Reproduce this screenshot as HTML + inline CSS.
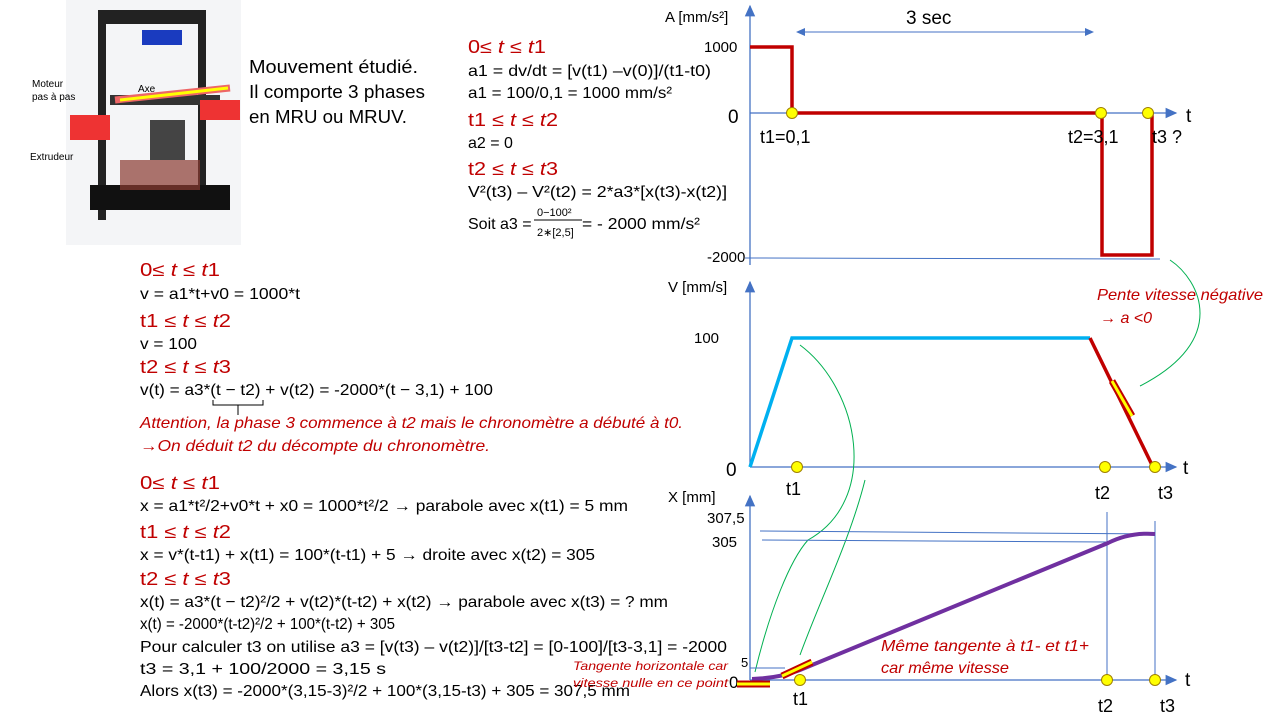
<!DOCTYPE html>
<html><head><meta charset="utf-8"><style>
body{margin:0;background:#fff}
svg{display:block;font-family:"Liberation Sans",sans-serif}
.r{fill:#c00000}.k{fill:#000}
</style></head><body>
<svg width="1280" height="720" viewBox="0 0 1280 720" xmlns="http://www.w3.org/2000/svg">
<defs>
<marker id="ar" markerWidth="10" markerHeight="10" refX="8" refY="5" orient="auto"><path d="M0,1 L9,5 L0,9 z" fill="#4472c4"/></marker>
<marker id="al" markerWidth="10" markerHeight="10" refX="2" refY="5" orient="auto"><path d="M10,1 L1,5 L10,9 z" fill="#4472c4"/></marker>
</defs>
<rect x="66" y="0" width="175" height="245" fill="#f4f5f7"/>
<rect x="98" y="10" width="8" height="210" fill="#222"/>
<rect x="198" y="10" width="8" height="200" fill="#222"/>
<rect x="98" y="10" width="108" height="14" fill="#222"/>
<rect x="142" y="30" width="40" height="15" fill="#1a3bbf"/>
<rect x="110" y="95" width="110" height="10" fill="#333"/>
<rect x="70" y="115" width="40" height="25" fill="#e33"/>
<rect x="200" y="100" width="40" height="20" fill="#e33"/>
<rect x="150" y="120" width="35" height="40" fill="#444"/>
<rect x="90" y="185" width="140" height="25" fill="#111"/>
<rect x="120" y="160" width="80" height="30" fill="#8a3b30" opacity="0.7"/>
<line x1="115" y1="100" x2="230" y2="88" stroke="#e66" stroke-width="7"/>
<line x1="120" y1="100" x2="228" y2="88" stroke="#ff0" stroke-width="3"/>
<text x="138" y="92" font-size="10">Axe</text>
<text x="32" y="87" font-size="10">Moteur</text>
<text x="32" y="100" font-size="10">pas à pas</text>
<text x="30" y="160" font-size="10">Extrudeur</text>
<text x="249" y="73" font-size="18" textLength="169" lengthAdjust="spacingAndGlyphs">Mouvement étudié.</text>
<text x="249" y="98" font-size="18" textLength="176" lengthAdjust="spacingAndGlyphs">Il comporte 3 phases</text>
<text x="249" y="123" font-size="18" textLength="158" lengthAdjust="spacingAndGlyphs">en MRU ou MRUV.</text>

<g font-size="16">
<text x="468" y="53" class="r" font-size="18" textLength="78" lengthAdjust="spacingAndGlyphs">0≤ <tspan font-style="italic">t</tspan> ≤ <tspan font-style="italic">t</tspan>1</text>
<text x="468" y="76" textLength="243" lengthAdjust="spacingAndGlyphs">a1 = dv/dt = [v(t1) –v(0)]/(t1-t0)</text>
<text x="468" y="98" textLength="204" lengthAdjust="spacingAndGlyphs">a1 = 100/0,1 = 1000 mm/s²</text>
<text x="468" y="126" class="r" font-size="18" textLength="90" lengthAdjust="spacingAndGlyphs">t1 ≤ <tspan font-style="italic">t</tspan> ≤ <tspan font-style="italic">t</tspan>2</text>
<text x="468" y="148">a2 = 0</text>
<text x="468" y="175" class="r" font-size="18" textLength="90" lengthAdjust="spacingAndGlyphs">t2 ≤ <tspan font-style="italic">t</tspan> ≤ <tspan font-style="italic">t</tspan>3</text>
<text x="468" y="197" textLength="259" lengthAdjust="spacingAndGlyphs">V²(t3) – V²(t2) = 2*a3*[x(t3)-x(t2)]</text>
<text x="468" y="229">Soit a3 =</text>
<text x="537" y="216" font-size="11">0−100²</text>
<line x1="534" y1="220" x2="582" y2="220" stroke="#000"/>
<text x="537" y="236" font-size="11">2∗[2,5]</text>
<text x="582" y="229" textLength="118" lengthAdjust="spacingAndGlyphs">= - 2000 mm/s²</text>

<text x="140" y="276" class="r" font-size="18" textLength="80" lengthAdjust="spacingAndGlyphs">0≤ <tspan font-style="italic">t</tspan> ≤ <tspan font-style="italic">t</tspan>1</text>
<text x="140" y="299" textLength="160" lengthAdjust="spacingAndGlyphs">v = a1*t+v0 = 1000*t</text>
<text x="140" y="327" class="r" font-size="18" textLength="91" lengthAdjust="spacingAndGlyphs">t1 ≤ <tspan font-style="italic">t</tspan> ≤ <tspan font-style="italic">t</tspan>2</text>
<text x="140" y="349" textLength="57" lengthAdjust="spacingAndGlyphs">v = 100</text>
<text x="140" y="373" class="r" font-size="18" textLength="91" lengthAdjust="spacingAndGlyphs">t2 ≤ <tspan font-style="italic">t</tspan> ≤ <tspan font-style="italic">t</tspan>3</text>
<text x="140" y="395" textLength="353" lengthAdjust="spacingAndGlyphs">v(t) = a3*(t − t2) + v(t2) = -2000*(t − 3,1) + 100</text>
<path d="M213,400 v5 h50 v-5 M238,405 v10" fill="none" stroke="#000" stroke-width="1"/>
<text x="140" y="428" class="r" font-style="italic" textLength="543" lengthAdjust="spacingAndGlyphs">Attention, la phase 3 commence à t2 mais le chronomètre a débuté à t0.</text>
<text x="140" y="451" class="r" font-style="italic" textLength="350" lengthAdjust="spacingAndGlyphs">→On déduit t2 du décompte du chronomètre.</text>

<text x="140" y="489" class="r" font-size="18" textLength="80" lengthAdjust="spacingAndGlyphs">0≤ <tspan font-style="italic">t</tspan> ≤ <tspan font-style="italic">t</tspan>1</text>
<text x="140" y="511" textLength="488" lengthAdjust="spacingAndGlyphs">x = a1*t²/2+v0*t + x0 = 1000*t²/2  → parabole avec x(t1) = 5 mm</text>
<text x="140" y="538" class="r" font-size="18" textLength="91" lengthAdjust="spacingAndGlyphs">t1 ≤ <tspan font-style="italic">t</tspan> ≤ <tspan font-style="italic">t</tspan>2</text>
<text x="140" y="560" textLength="455" lengthAdjust="spacingAndGlyphs">x = v*(t-t1) + x(t1) = 100*(t-t1) + 5 → droite avec x(t2) = 305</text>
<text x="140" y="585" class="r" font-size="18" textLength="91" lengthAdjust="spacingAndGlyphs">t2 ≤ <tspan font-style="italic">t</tspan> ≤ <tspan font-style="italic">t</tspan>3</text>
<text x="140" y="607" textLength="528" lengthAdjust="spacingAndGlyphs">x(t) = a3*(t − t2)²/2 + v(t2)*(t-t2) + x(t2) → parabole avec x(t3) = ? mm</text>
<text x="140" y="629" textLength="255" lengthAdjust="spacingAndGlyphs">x(t) = -2000*(t-t2)²/2 + 100*(t-t2) + 305</text>
<text x="140" y="652" textLength="587" lengthAdjust="spacingAndGlyphs">Pour calculer t3 on utilise a3 = [v(t3) – v(t2)]/[t3-t2] = [0-100]/[t3-3,1] = -2000</text>
<text x="140" y="674" textLength="246" lengthAdjust="spacingAndGlyphs">t3 = 3,1 + 100/2000 = 3,15 s</text>
<text x="140" y="696" textLength="490" lengthAdjust="spacingAndGlyphs">Alors x(t3) = -2000*(3,15-3)²/2 + 100*(3,15-t3) + 305 = 307,5 mm</text>
</g>

<line x1="750" y1="265" x2="750" y2="6" stroke="#4472c4" stroke-width="1.3" marker-end="url(#ar)"/>
<line x1="750" y1="113" x2="1176" y2="113" stroke="#4472c4" stroke-width="1.3" marker-end="url(#ar)"/>
<line x1="745" y1="258" x2="1160" y2="259" stroke="#4472c4" stroke-width="1"/>
<line x1="797" y1="32" x2="1093" y2="32" stroke="#4472c4" stroke-width="1" marker-start="url(#al)" marker-end="url(#ar)"/>
<text x="665" y="22" font-size="15">A [mm/s²]</text>
<text x="906" y="24" font-size="19">3 sec</text>
<text x="704" y="52" font-size="15">1000</text>
<text x="728" y="123" font-size="19">0</text>
<text x="707" y="262" font-size="15">-2000</text>
<text x="1186" y="122" font-size="19">t</text>
<path d="M750,47 H792 V113 H1102 V255 H1152 V113" fill="none" stroke="#c00000" stroke-width="3.5"/>
<g fill="#ffff00" stroke="#a08000" stroke-width="1"><circle cx="792" cy="113" r="5.5"/><circle cx="1101" cy="113" r="5.5"/><circle cx="1148" cy="113" r="5.5"/></g>
<text x="760" y="143" font-size="18">t1=0,1</text>
<text x="1068" y="143" font-size="18">t2=3,1</text>
<text x="1152" y="143" font-size="18">t3 ?</text>

<line x1="750" y1="467" x2="750" y2="282" stroke="#4472c4" stroke-width="1.3" marker-end="url(#ar)"/>
<line x1="750" y1="467" x2="1176" y2="467" stroke="#4472c4" stroke-width="1.3" marker-end="url(#ar)"/>
<text x="668" y="292" font-size="15">V [mm/s]</text>
<text x="694" y="343" font-size="15">100</text>
<text x="726" y="476" font-size="19">0</text>
<text x="1183" y="474" font-size="19">t</text>
<path d="M750,467 L792,338 H1090" fill="none" stroke="#00b0f0" stroke-width="3.5"/>
<path d="M1090,338 L1153,467" fill="none" stroke="#c00000" stroke-width="3.5"/>
<line x1="1112" y1="381" x2="1132" y2="416" stroke="#c00000" stroke-width="7"/>
<line x1="1112" y1="381" x2="1132" y2="416" stroke="#ffff00" stroke-width="3"/>
<g fill="#ffff00" stroke="#a08000"><circle cx="797" cy="467" r="5.5"/><circle cx="1105" cy="467" r="5.5"/><circle cx="1155" cy="467" r="5.5"/></g>
<text x="786" y="495" font-size="18">t1</text>
<text x="1095" y="499" font-size="18">t2</text>
<text x="1158" y="499" font-size="18">t3</text>
<text x="1097" y="300" font-size="16" class="r" font-style="italic" textLength="166" lengthAdjust="spacingAndGlyphs">Pente vitesse négative</text>
<text x="1100" y="323" font-size="16" class="r" font-style="italic">→ a &lt;0</text>
<path d="M1170,260 C1200,280 1230,340 1140,386" fill="none" stroke="#00b050" stroke-width="1"/>
<path d="M800,345 C860,390 880,500 808,540 C790,560 770,610 755,672" fill="none" stroke="#00b050" stroke-width="1"/>
<path d="M865,480 C850,540 820,600 800,655" fill="none" stroke="#00b050" stroke-width="1"/>

<line x1="750" y1="680" x2="750" y2="496" stroke="#4472c4" stroke-width="1.3" marker-end="url(#ar)"/>
<line x1="750" y1="680" x2="1176" y2="680" stroke="#4472c4" stroke-width="1.3" marker-end="url(#ar)"/>
<line x1="760" y1="531" x2="1155" y2="534" stroke="#4472c4" stroke-width="1"/>
<line x1="762" y1="540" x2="1108" y2="542" stroke="#4472c4" stroke-width="1"/>
<line x1="1107" y1="512" x2="1107" y2="680" stroke="#4472c4" stroke-width="1"/>
<line x1="1155" y1="521" x2="1155" y2="680" stroke="#4472c4" stroke-width="1"/>
<line x1="750" y1="668" x2="785" y2="668" stroke="#4472c4" stroke-width="1"/>
<text x="668" y="502" font-size="15">X [mm]</text>
<text x="707" y="523" font-size="15">307,5</text>
<text x="712" y="547" font-size="15">305</text>
<text x="741" y="667" font-size="13">5</text>
<text x="729" y="688" font-size="17">0</text>
<text x="1185" y="686" font-size="19">t</text>
<path d="M752,679 Q780,678 800,670 L1108,543 Q1130,532 1155,534" fill="none" stroke="#7030a0" stroke-width="4"/>
<line x1="782" y1="676" x2="812" y2="662" stroke="#c00000" stroke-width="7"/>
<line x1="782" y1="676" x2="812" y2="662" stroke="#ffff00" stroke-width="3"/>
<line x1="737" y1="684" x2="770" y2="684" stroke="#c00000" stroke-width="7"/>
<line x1="737" y1="684" x2="770" y2="684" stroke="#ffff00" stroke-width="3"/>
<g fill="#ffff00" stroke="#a08000"><circle cx="800" cy="680" r="5.5"/><circle cx="1107" cy="680" r="5.5"/><circle cx="1155" cy="680" r="5.5"/></g>
<text x="793" y="705" font-size="18">t1</text>
<text x="1098" y="712" font-size="18">t2</text>
<text x="1160" y="712" font-size="18">t3</text>
<text x="881" y="651" font-size="16" class="r" font-style="italic" textLength="208" lengthAdjust="spacingAndGlyphs">Même tangente à t1- et t1+</text>
<text x="881" y="673" font-size="16" class="r" font-style="italic" textLength="128" lengthAdjust="spacingAndGlyphs">car même vitesse</text>
<text x="573" y="670" font-size="12" class="r" font-style="italic" textLength="155" lengthAdjust="spacingAndGlyphs">Tangente horizontale car</text>
<text x="573" y="687" font-size="12" class="r" font-style="italic" textLength="155" lengthAdjust="spacingAndGlyphs">vitesse nulle en ce point</text>
</svg>
</body></html>
